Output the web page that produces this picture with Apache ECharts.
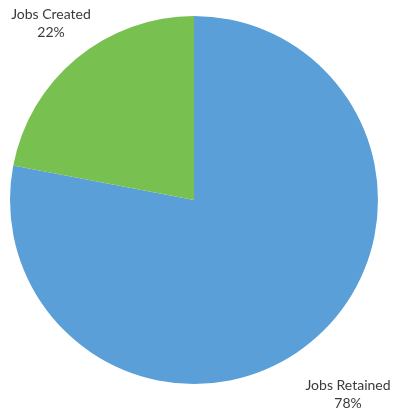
<!DOCTYPE html>
<html>
<head>
<meta charset="utf-8">
<script src="https://cdn.jsdelivr.net/npm/echarts@6/dist/echarts.min.js"></script>
<style>
  html, body { margin: 0; padding: 0; background: #fff; }
  #chart { width: 394px; height: 413px; }
</style>
</head>
<body>
<div id="chart"></div>
<script>
// Share of jobs by type
const categories = ['Jobs Retained', 'Jobs Created'];
const shares = [78, 22];
const colors = ['#5a9fd7', '#78c04f'];

// Label anchor points (pixel centres of each two-line label)
const labelAnchors = [
  { x: 348, y: 394 },
  { x: 51, y: 23 }
];

const chart = echarts.init(document.getElementById('chart'), null, { renderer: 'canvas' });

chart.setOption({
  animation: false,
  series: [{
    type: 'pie',
    center: [194, 200],
    radius: 184,
    startAngle: 90,
    clockwise: true,
    avoidLabelOverlap: false,
    data: categories.map((name, i) => ({
      name: name,
      value: shares[i],
      itemStyle: { color: colors[i] }
    })),
    itemStyle: { borderWidth: 0 },
    emphasis: { disabled: true },
    label: {
      show: true,
      position: 'outside',
      formatter: '{b}\n{d}%',
      fontFamily: 'Lato',
      fontSize: 14,
      lineHeight: 18,
      color: '#3a3a3a',
      align: 'center'
    },
    labelLine: { show: false },
    labelLayout: function (params) {
      const a = labelAnchors[params.dataIndex];
      return { x: a.x, y: a.y, align: 'center', verticalAlign: 'middle' };
    }
  }]
});
</script>
</body>
</html>
